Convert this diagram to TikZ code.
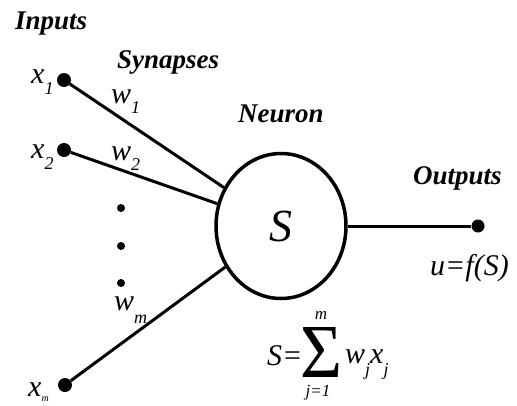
\documentclass[tikz,border=0pt]{standalone}
\usepackage{fontspec}
\setmainfont{Liberation Serif}
\usepackage{graphicx}
\usetikzlibrary{shapes.geometric, positioning}

% italic symbol with a lowered small index
\newcommand{\vsub}[3][11pt]{#2\raisebox{-#1}{\fontsize{18}{18}\selectfont #3}}

\begin{document}
\begin{tikzpicture}[x=1pt, y=-1pt,
    title/.style={font=\fontsize{27}{27}\selectfont\bfseries\itshape, inner sep=0pt},
    var/.style={font=\fontsize{30}{30}\selectfont\itshape, inner sep=0pt},
    small/.style={font=\fontsize{17}{17}\selectfont\itshape, inner sep=0pt},
    dot/.style={circle, fill, inner sep=0pt, minimum size=#1},
    dot/.default=14pt,
    wire/.style={line width=3pt}]
  \useasboundingbox (0,0) rectangle (517,405);

  % neuron body
  \node[ellipse, draw, line width=3.5pt, minimum width=130pt,
        minimum height=145pt, inner sep=0pt] (neuron) at (281,226)
        {\fontsize{46}{46}\selectfont\itshape S};

  % inputs and synapses
  \node[dot] (x1) at (64,80) {};
  \node[dot] (x2) at (64,150) {};
  \node[dot] (xm) at (65,385) {};
  \foreach \i in {x1,x2,xm}{
    \draw[wire] (\i) -- (neuron);
  }
  \foreach \y in {208,246,283}{
    \node[dot=8pt] (d\y) at (121,\y) {};
  }

  % output
  \node[dot=13pt] (out) at (478,226) {};
  \draw[wire] (neuron) -- (out);

  % titles
  \node[title, anchor=base west] (inputs) at (15,29) {Inputs};
  \node[title, anchor=base west] (synapses) at (117,68) {Synapses};
  \node[title, anchor=base west] (neuronlbl) at (238,122) {Neuron};
  \node[title, anchor=base west] (outputs) at (413,184) {Outputs};

  % symbols
  \node[var, anchor=base west] (lx1) at (31,83) {\vsub{x}{1}};
  \node[var, anchor=base west] (lx2) at (31,158) {\vsub{x}{2}};
  \node[var, anchor=base west] (lxm) at (28,396)
    {x\raisebox{-5pt}{\fontsize{10}{10}\selectfont m}};
  \node[var, anchor=base west] (lw1) at (111,103) {\vsub[10pt]{w}{1}};
  \node[var, anchor=base west] (lw2) at (111,160) {\vsub[10pt]{w}{2}};
  \node[var, anchor=base west] (lwm) at (114,310) {\vsub[13pt]{w}{m}};
  \node[var, anchor=base west] (uout) at (430,275) {u=f(S)};

  % weighted sum
  \node[var, anchor=base west] (sumS) at (267,365) {S=};
  \node[inner sep=0pt] (sigma) at (321,352)
    {\resizebox{42pt}{50pt}{\fontsize{60}{60}\selectfont Σ}};
  \node[small, anchor=base] (sumtop) at (321,319) {m};
  \node[small, anchor=base] (sumbot) at (318,396) {j=1};
  \node[var, anchor=base west] (sumw) at (345,363)
    {\vsub[12pt]{w}{j}\vsub[12pt]{x}{j}};
\end{tikzpicture}
\end{document}
